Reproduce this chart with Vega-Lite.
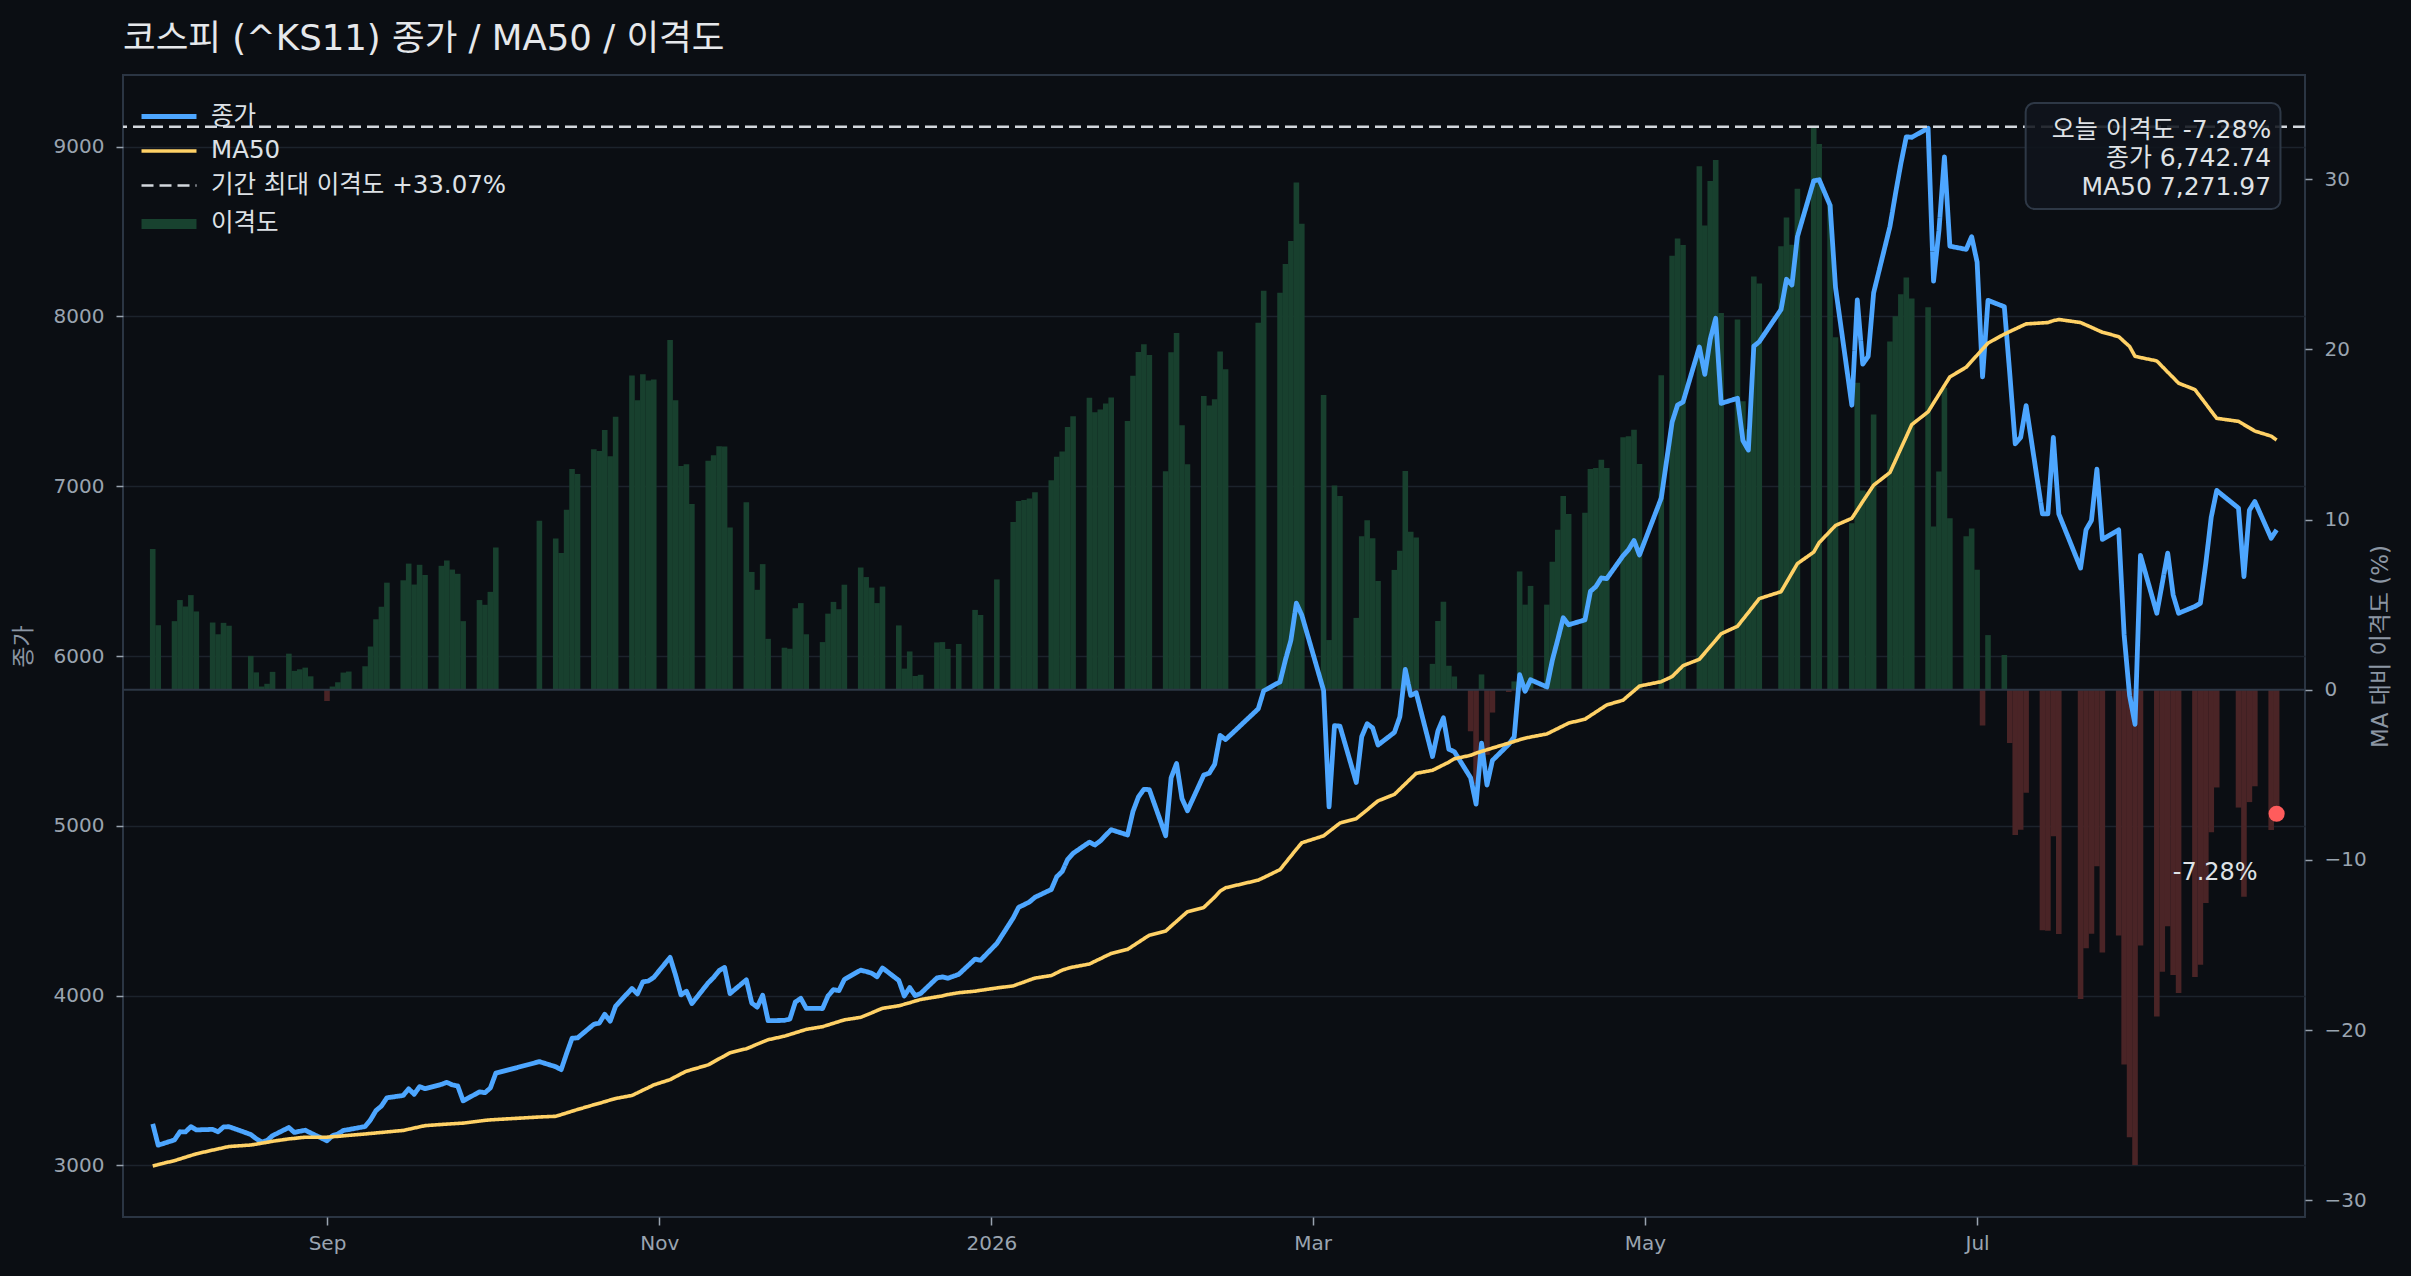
{
  "$schema": "https://vega.github.io/schema/vega-lite/v6.json",
  "width": 2182,
  "height": 1142,
  "autosize": {"type": "none"},
  "padding": {"left": 123, "top": 75, "right": 106, "bottom": 59},
  "background": "#0b0e13",
  "config": {
    "font": "DejaVu Sans, Noto Sans CJK KR",
    "view": {"stroke": "#2b3543", "strokeWidth": 2},
    "axis": {
      "labelColor": "#9aa4b0", "labelFontSize": 20, "labelFont": "DejaVu Sans, Noto Sans CJK KR",
      "titleColor": "#8c96a3", "titleFontSize": 23, "titleFontWeight": "normal",
      "tickColor": "#9aa4b0", "tickSize": 7, "tickWidth": 1.5, "domain": false, "grid": false
    },
    "legend": {
      "title": null, "orient": "none", "legendX": 27, "legendY": 25, "padding": 0,
      "symbolType": "M-2,0H2", "symbolSize": 756, "labelFontSize": 24.5, "labelColor": "#dde1e6",
      "labelLimit": 1000, "rowPadding": 7, "labelOffset": 23
    }
  },
  "title": {
    "text": "코스피 (^KS11) 종가 / MA50 / 이격도",
    "anchor": "start", "frame": "group", "fontSize": 35.5, "fontWeight": "normal",
    "color": "#e6e8eb", "baseline": "bottom", "offset": 18, "dy": 35
  },
  "datasets": {
    "kospi": [
      {"date":"2025-07-31","close":3245,"ma":2997,"dev":8.27},
      {"date":"2025-08-01","close":3119,"ma":3005,"dev":3.79},
      {"date":"2025-08-04","close":3150,"ma":3028,"dev":4.03},
      {"date":"2025-08-05","close":3198,"ma":3038,"dev":5.27},
      {"date":"2025-08-06","close":3197,"ma":3048,"dev":4.89},
      {"date":"2025-08-07","close":3228,"ma":3058,"dev":5.56},
      {"date":"2025-08-08","close":3209,"ma":3068,"dev":4.60},
      {"date":"2025-08-11","close":3212,"ma":3090,"dev":3.95},
      {"date":"2025-08-12","close":3198,"ma":3097,"dev":3.26},
      {"date":"2025-08-13","close":3226,"ma":3104,"dev":3.93},
      {"date":"2025-08-14","close":3228,"ma":3111,"dev":3.76},
      {"date":"2025-08-18","close":3182,"ma":3120,"dev":1.99},
      {"date":"2025-08-19","close":3157,"ma":3125,"dev":1.02},
      {"date":"2025-08-20","close":3137,"ma":3131,"dev":0.19},
      {"date":"2025-08-21","close":3147,"ma":3136,"dev":0.35},
      {"date":"2025-08-22","close":3175,"ma":3142,"dev":1.05},
      {"date":"2025-08-25","close":3223,"ma":3156,"dev":2.12},
      {"date":"2025-08-26","close":3194,"ma":3159,"dev":1.11},
      {"date":"2025-08-27","close":3201,"ma":3163,"dev":1.20},
      {"date":"2025-08-28","close":3207,"ma":3166,"dev":1.30},
      {"date":"2025-08-29","close":3191,"ma":3166,"dev":0.79},
      {"date":"2025-09-01","close":3145,"ma":3166,"dev":-0.66},
      {"date":"2025-09-02","close":3175,"ma":3169,"dev":0.19},
      {"date":"2025-09-03","close":3185,"ma":3171,"dev":0.44},
      {"date":"2025-09-04","close":3206,"ma":3174,"dev":1.01},
      {"date":"2025-09-05","close":3211,"ma":3177,"dev":1.07},
      {"date":"2025-09-08","close":3229,"ma":3185,"dev":1.38},
      {"date":"2025-09-09","close":3269,"ma":3188,"dev":2.54},
      {"date":"2025-09-10","close":3323,"ma":3191,"dev":4.14},
      {"date":"2025-09-11","close":3350,"ma":3194,"dev":4.88},
      {"date":"2025-09-12","close":3398,"ma":3197,"dev":6.29},
      {"date":"2025-09-15","close":3412,"ma":3206,"dev":6.43},
      {"date":"2025-09-16","close":3451,"ma":3213,"dev":7.41},
      {"date":"2025-09-17","close":3419,"ma":3220,"dev":6.18},
      {"date":"2025-09-18","close":3464,"ma":3227,"dev":7.34},
      {"date":"2025-09-19","close":3452,"ma":3234,"dev":6.74},
      {"date":"2025-09-22","close":3477,"ma":3241,"dev":7.28},
      {"date":"2025-09-23","close":3489,"ma":3243,"dev":7.59},
      {"date":"2025-09-24","close":3474,"ma":3245,"dev":7.06},
      {"date":"2025-09-25","close":3468,"ma":3247,"dev":6.81},
      {"date":"2025-09-26","close":3380,"ma":3249,"dev":4.03},
      {"date":"2025-09-29","close":3433,"ma":3261,"dev":5.27},
      {"date":"2025-09-30","close":3428,"ma":3265,"dev":4.99},
      {"date":"2025-10-01","close":3456,"ma":3268,"dev":5.75},
      {"date":"2025-10-02","close":3543,"ma":3270,"dev":8.35},
      {"date":"2025-10-10","close":3611,"ma":3285,"dev":9.92},
      {"date":"2025-10-13","close":3581,"ma":3289,"dev":8.88},
      {"date":"2025-10-14","close":3564,"ma":3299,"dev":8.03},
      {"date":"2025-10-15","close":3659,"ma":3309,"dev":10.58},
      {"date":"2025-10-16","close":3749,"ma":3319,"dev":12.96},
      {"date":"2025-10-17","close":3751,"ma":3329,"dev":12.68},
      {"date":"2025-10-20","close":3831,"ma":3357,"dev":14.12},
      {"date":"2025-10-21","close":3838,"ma":3366,"dev":14.02},
      {"date":"2025-10-22","close":3890,"ma":3375,"dev":15.26},
      {"date":"2025-10-23","close":3849,"ma":3385,"dev":13.71},
      {"date":"2025-10-24","close":3938,"ma":3394,"dev":16.03},
      {"date":"2025-10-27","close":4042,"ma":3412,"dev":18.46},
      {"date":"2025-10-28","close":4010,"ma":3427,"dev":17.01},
      {"date":"2025-10-29","close":4081,"ma":3443,"dev":18.53},
      {"date":"2025-10-30","close":4086,"ma":3458,"dev":18.16},
      {"date":"2025-10-31","close":4107,"ma":3474,"dev":18.22},
      {"date":"2025-11-03","close":4225,"ma":3505,"dev":20.54},
      {"date":"2025-11-04","close":4121,"ma":3522,"dev":17.01},
      {"date":"2025-11-05","close":4004,"ma":3539,"dev":13.14},
      {"date":"2025-11-06","close":4026,"ma":3555,"dev":13.25},
      {"date":"2025-11-07","close":3953,"ma":3564,"dev":10.91},
      {"date":"2025-11-10","close":4075,"ma":3592,"dev":13.45},
      {"date":"2025-11-11","close":4107,"ma":3610,"dev":13.77},
      {"date":"2025-11-12","close":4147,"ma":3628,"dev":14.31},
      {"date":"2025-11-13","close":4166,"ma":3645,"dev":14.29},
      {"date":"2025-11-14","close":4012,"ma":3663,"dev":9.53},
      {"date":"2025-11-17","close":4093,"ma":3687,"dev":11.01},
      {"date":"2025-11-18","close":3956,"ma":3700,"dev":6.92},
      {"date":"2025-11-19","close":3932,"ma":3714,"dev":5.87},
      {"date":"2025-11-20","close":4002,"ma":3727,"dev":7.38},
      {"date":"2025-11-21","close":3852,"ma":3740,"dev":2.99},
      {"date":"2025-11-24","close":3854,"ma":3761,"dev":2.47},
      {"date":"2025-11-25","close":3862,"ma":3771,"dev":2.41},
      {"date":"2025-11-26","close":3962,"ma":3781,"dev":4.79},
      {"date":"2025-11-27","close":3984,"ma":3791,"dev":5.09},
      {"date":"2025-11-28","close":3925,"ma":3801,"dev":3.26},
      {"date":"2025-12-01","close":3924,"ma":3817,"dev":2.80},
      {"date":"2025-12-02","close":3998,"ma":3827,"dev":4.47},
      {"date":"2025-12-03","close":4035,"ma":3837,"dev":5.16},
      {"date":"2025-12-04","close":4029,"ma":3847,"dev":4.73},
      {"date":"2025-12-05","close":4095,"ma":3857,"dev":6.17},
      {"date":"2025-12-08","close":4150,"ma":3872,"dev":7.18},
      {"date":"2025-12-09","close":4142,"ma":3885,"dev":6.62},
      {"date":"2025-12-10","close":4132,"ma":3898,"dev":6.00},
      {"date":"2025-12-11","close":4111,"ma":3912,"dev":5.09},
      {"date":"2025-12-12","close":4163,"ma":3925,"dev":6.06},
      {"date":"2025-12-15","close":4089,"ma":3940,"dev":3.78},
      {"date":"2025-12-16","close":3998,"ma":3949,"dev":1.24},
      {"date":"2025-12-17","close":4047,"ma":3958,"dev":2.25},
      {"date":"2025-12-18","close":4000,"ma":3968,"dev":0.81},
      {"date":"2025-12-19","close":4012,"ma":3977,"dev":0.88},
      {"date":"2025-12-22","close":4104,"ma":3993,"dev":2.78},
      {"date":"2025-12-23","close":4110,"ma":3998,"dev":2.80},
      {"date":"2025-12-24","close":4102,"ma":4006,"dev":2.40},
      {"date":"2025-12-26","close":4125,"ma":4017,"dev":2.69},
      {"date":"2025-12-29","close":4215,"ma":4026,"dev":4.69},
      {"date":"2025-12-30","close":4208,"ma":4031,"dev":4.39},
      {"date":"2026-01-02","close":4307,"ma":4045,"dev":6.48},
      {"date":"2026-01-05","close":4457,"ma":4057,"dev":9.86},
      {"date":"2026-01-06","close":4520,"ma":4069,"dev":11.08},
      {"date":"2026-01-07","close":4535,"ma":4080,"dev":11.15},
      {"date":"2026-01-08","close":4552,"ma":4092,"dev":11.24},
      {"date":"2026-01-09","close":4579,"ma":4103,"dev":11.60},
      {"date":"2026-01-12","close":4625,"ma":4118,"dev":12.31},
      {"date":"2026-01-13","close":4700,"ma":4134,"dev":13.69},
      {"date":"2026-01-14","close":4731,"ma":4150,"dev":14.00},
      {"date":"2026-01-15","close":4802,"ma":4160,"dev":15.43},
      {"date":"2026-01-16","close":4838,"ma":4168,"dev":16.07},
      {"date":"2026-01-19","close":4904,"ma":4186,"dev":17.15},
      {"date":"2026-01-20","close":4887,"ma":4202,"dev":16.30},
      {"date":"2026-01-21","close":4911,"ma":4217,"dev":16.46},
      {"date":"2026-01-22","close":4945,"ma":4233,"dev":16.82},
      {"date":"2026-01-23","close":4977,"ma":4248,"dev":17.16},
      {"date":"2026-01-26","close":4946,"ma":4272,"dev":15.78},
      {"date":"2026-01-27","close":5085,"ma":4293,"dev":18.45},
      {"date":"2026-01-28","close":5170,"ma":4314,"dev":19.84},
      {"date":"2026-01-29","close":5215,"ma":4335,"dev":20.30},
      {"date":"2026-01-30","close":5213,"ma":4356,"dev":19.67},
      {"date":"2026-02-02","close":4942,"ma":4380,"dev":12.83},
      {"date":"2026-02-03","close":5283,"ma":4409,"dev":19.82},
      {"date":"2026-02-04","close":5367,"ma":4437,"dev":20.96},
      {"date":"2026-02-05","close":5160,"ma":4466,"dev":15.54},
      {"date":"2026-02-06","close":5089,"ma":4494,"dev":13.24},
      {"date":"2026-02-09","close":5299,"ma":4519,"dev":17.26},
      {"date":"2026-02-10","close":5310,"ma":4550,"dev":16.70},
      {"date":"2026-02-11","close":5362,"ma":4580,"dev":17.07},
      {"date":"2026-02-12","close":5532,"ma":4615,"dev":19.87},
      {"date":"2026-02-13","close":5508,"ma":4635,"dev":18.83},
      {"date":"2026-02-19","close":5689,"ma":4680,"dev":21.56},
      {"date":"2026-02-20","close":5795,"ma":4695,"dev":23.43},
      {"date":"2026-02-23","close":5848,"ma":4742,"dev":23.32},
      {"date":"2026-02-24","close":5978,"ma":4782,"dev":25.01},
      {"date":"2026-02-25","close":6093,"ma":4822,"dev":26.36},
      {"date":"2026-02-26","close":6311,"ma":4862,"dev":29.80},
      {"date":"2026-02-27","close":6241,"ma":4900,"dev":27.37},
      {"date":"2026-03-03","close":5797,"ma":4941,"dev":17.32},
      {"date":"2026-03-04","close":5111,"ma":4966,"dev":2.92},
      {"date":"2026-03-05","close":5590,"ma":4991,"dev":12.00},
      {"date":"2026-03-06","close":5587,"ma":5016,"dev":11.38},
      {"date":"2026-03-09","close":5255,"ma":5042,"dev":4.22},
      {"date":"2026-03-10","close":5525,"ma":5068,"dev":9.02},
      {"date":"2026-03-11","close":5601,"ma":5094,"dev":9.95},
      {"date":"2026-03-12","close":5577,"ma":5121,"dev":8.90},
      {"date":"2026-03-13","close":5476,"ma":5147,"dev":6.39},
      {"date":"2026-03-16","close":5550,"ma":5185,"dev":7.04},
      {"date":"2026-03-17","close":5642,"ma":5216,"dev":8.17},
      {"date":"2026-03-18","close":5921,"ma":5247,"dev":12.85},
      {"date":"2026-03-19","close":5768,"ma":5278,"dev":9.28},
      {"date":"2026-03-20","close":5784,"ma":5309,"dev":8.95},
      {"date":"2026-03-23","close":5408,"ma":5327,"dev":1.52},
      {"date":"2026-03-24","close":5559,"ma":5343,"dev":4.04},
      {"date":"2026-03-25","close":5636,"ma":5359,"dev":5.17},
      {"date":"2026-03-26","close":5451,"ma":5375,"dev":1.41},
      {"date":"2026-03-27","close":5437,"ma":5395,"dev":0.78},
      {"date":"2026-03-30","close":5283,"ma":5415,"dev":-2.44},
      {"date":"2026-03-31","close":5128,"ma":5428,"dev":-5.53},
      {"date":"2026-04-01","close":5487,"ma":5438,"dev":0.90},
      {"date":"2026-04-02","close":5240,"ma":5448,"dev":-3.82},
      {"date":"2026-04-03","close":5385,"ma":5458,"dev":-1.34},
      {"date":"2026-04-06","close":5480,"ma":5487,"dev":-0.13},
      {"date":"2026-04-07","close":5524,"ma":5497,"dev":0.49},
      {"date":"2026-04-08","close":5890,"ma":5507,"dev":6.95},
      {"date":"2026-04-09","close":5792,"ma":5516,"dev":5.00},
      {"date":"2026-04-10","close":5860,"ma":5523,"dev":6.10},
      {"date":"2026-04-13","close":5818,"ma":5541,"dev":5.00},
      {"date":"2026-04-14","close":5975,"ma":5557,"dev":7.52},
      {"date":"2026-04-15","close":6097,"ma":5573,"dev":9.40},
      {"date":"2026-04-16","close":6225,"ma":5589,"dev":11.38},
      {"date":"2026-04-17","close":6184,"ma":5605,"dev":10.33},
      {"date":"2026-04-20","close":6213,"ma":5628,"dev":10.39},
      {"date":"2026-04-21","close":6381,"ma":5649,"dev":12.96},
      {"date":"2026-04-22","close":6409,"ma":5670,"dev":13.03},
      {"date":"2026-04-23","close":6460,"ma":5691,"dev":13.51},
      {"date":"2026-04-24","close":6456,"ma":5712,"dev":13.03},
      {"date":"2026-04-27","close":6591,"ma":5740,"dev":14.83},
      {"date":"2026-04-28","close":6627,"ma":5768,"dev":14.89},
      {"date":"2026-04-29","close":6680,"ma":5795,"dev":15.27},
      {"date":"2026-04-30","close":6595,"ma":5823,"dev":13.26},
      {"date":"2026-05-04","close":6930,"ma":5849,"dev":18.48},
      {"date":"2026-05-06","close":7378,"ma":5879,"dev":25.50},
      {"date":"2026-05-07","close":7478,"ma":5911,"dev":26.51},
      {"date":"2026-05-08","close":7496,"ma":5943,"dev":26.13},
      {"date":"2026-05-11","close":7820,"ma":5981,"dev":30.75},
      {"date":"2026-05-12","close":7659,"ma":6018,"dev":27.27},
      {"date":"2026-05-13","close":7866,"ma":6056,"dev":29.89},
      {"date":"2026-05-14","close":7989,"ma":6093,"dev":31.12},
      {"date":"2026-05-15","close":7488,"ma":6131,"dev":22.13},
      {"date":"2026-05-18","close":7518,"ma":6175,"dev":21.75},
      {"date":"2026-05-19","close":7269,"ma":6216,"dev":16.94},
      {"date":"2026-05-20","close":7213,"ma":6256,"dev":15.30},
      {"date":"2026-05-21","close":7825,"ma":6297,"dev":24.27},
      {"date":"2026-05-22","close":7851,"ma":6338,"dev":23.87},
      {"date":"2026-05-26","close":8041,"ma":6379,"dev":26.05},
      {"date":"2026-05-27","close":8219,"ma":6434,"dev":27.74},
      {"date":"2026-05-28","close":8185,"ma":6489,"dev":26.14},
      {"date":"2026-05-29","close":8470,"ma":6544,"dev":29.43},
      {"date":"2026-06-01","close":8799,"ma":6612,"dev":33.07},
      {"date":"2026-06-02","close":8805,"ma":6668,"dev":32.05},
      {"date":"2026-06-04","close":8655,"ma":6735,"dev":28.51},
      {"date":"2026-06-05","close":8171,"ma":6769,"dev":20.71},
      {"date":"2026-06-08","close":7477,"ma":6811,"dev":9.78},
      {"date":"2026-06-09","close":8097,"ma":6860,"dev":18.03},
      {"date":"2026-06-10","close":7719,"ma":6910,"dev":11.71},
      {"date":"2026-06-11","close":7765,"ma":6958,"dev":11.60},
      {"date":"2026-06-12","close":8139,"ma":7006,"dev":16.17},
      {"date":"2026-06-15","close":8530,"ma":7081,"dev":20.46},
      {"date":"2026-06-16","close":8720,"ma":7151,"dev":21.94},
      {"date":"2026-06-17","close":8900,"ma":7222,"dev":23.23},
      {"date":"2026-06-18","close":9058,"ma":7292,"dev":24.22},
      {"date":"2026-06-19","close":9055,"ma":7363,"dev":22.98},
      {"date":"2026-06-22","close":9109,"ma":7438,"dev":22.47},
      {"date":"2026-06-23","close":8208,"ma":7490,"dev":9.59},
      {"date":"2026-06-24","close":8508,"ma":7541,"dev":12.82},
      {"date":"2026-06-25","close":8940,"ma":7593,"dev":17.74},
      {"date":"2026-06-26","close":8414,"ma":7644,"dev":10.07},
      {"date":"2026-06-29","close":8395,"ma":7701,"dev":9.01},
      {"date":"2026-06-30","close":8470,"ma":7737,"dev":9.47},
      {"date":"2026-07-01","close":8320,"ma":7772,"dev":7.05},
      {"date":"2026-07-02","close":7644,"ma":7808,"dev":-2.10},
      {"date":"2026-07-03","close":8095,"ma":7843,"dev":3.21},
      {"date":"2026-07-06","close":8057,"ma":7896,"dev":2.04},
      {"date":"2026-07-07","close":7663,"ma":7911,"dev":-3.13},
      {"date":"2026-07-08","close":7250,"ma":7926,"dev":-8.53},
      {"date":"2026-07-09","close":7288,"ma":7941,"dev":-8.22},
      {"date":"2026-07-10","close":7475,"ma":7956,"dev":-6.05},
      {"date":"2026-07-13","close":6837,"ma":7962,"dev":-14.13},
      {"date":"2026-07-14","close":6837,"ma":7964,"dev":-14.15},
      {"date":"2026-07-15","close":7288,"ma":7975,"dev":-8.61},
      {"date":"2026-07-16","close":6837,"ma":7982,"dev":-14.34},
      {"date":"2026-07-20","close":6518,"ma":7964,"dev":-18.16},
      {"date":"2026-07-21","close":6743,"ma":7950,"dev":-15.18},
      {"date":"2026-07-22","close":6799,"ma":7936,"dev":-14.33},
      {"date":"2026-07-23","close":7100,"ma":7921,"dev":-10.36},
      {"date":"2026-07-24","close":6687,"ma":7907,"dev":-15.43},
      {"date":"2026-07-27","close":6743,"ma":7881,"dev":-14.44},
      {"date":"2026-07-28","close":6124,"ma":7852,"dev":-22.01},
      {"date":"2026-07-29","close":5767,"ma":7823,"dev":-26.28},
      {"date":"2026-07-30","close":5598,"ma":7765,"dev":-27.91},
      {"date":"2026-07-31","close":6593,"ma":7758,"dev":-15.02},
      {"date":"2026-08-03","close":6252,"ma":7738,"dev":-19.20},
      {"date":"2026-08-04","close":6429,"ma":7705,"dev":-16.56},
      {"date":"2026-08-05","close":6606,"ma":7672,"dev":-13.89},
      {"date":"2026-08-06","close":6360,"ma":7640,"dev":-16.75},
      {"date":"2026-08-07","close":6252,"ma":7607,"dev":-17.81},
      {"date":"2026-08-10","close":6292,"ma":7569,"dev":-16.87},
      {"date":"2026-08-11","close":6311,"ma":7527,"dev":-16.16},
      {"date":"2026-08-12","close":6547,"ma":7485,"dev":-12.53},
      {"date":"2026-08-13","close":6819,"ma":7442,"dev":-8.37},
      {"date":"2026-08-14","close":6975,"ma":7400,"dev":-5.74},
      {"date":"2026-08-18","close":6871,"ma":7382,"dev":-6.92},
      {"date":"2026-08-19","close":6468,"ma":7363,"dev":-12.16},
      {"date":"2026-08-20","close":6859,"ma":7344,"dev":-6.60},
      {"date":"2026-08-21","close":6910,"ma":7325,"dev":-5.67},
      {"date":"2026-08-24","close":6694,"ma":7295,"dev":-8.24},
      {"date":"2026-08-25","close":6742.74,"ma":7271.97,"dev":-7.28}
    ],
    "one": [{}]
  },
  "data": {"name": "kospi"},
  "layer": [
    {
      "mark": {"type": "bar", "size": 5.6},
      "encoding": {
        "x": {
          "field": "date", "type": "temporal", "title": null,
          "scale": {"type": "utc", "domain": [{"year": 2025, "month": 7, "date": 26, "hours": 11, "utc": true}, {"year": 2026, "month": 8, "date": 29, "hours": 7, "utc": true}]},
          "axis": {
            "orient": "bottom", "tickSize": 8, "labelPadding": 8,
            "values": [
              {"year": 2025, "month": 9, "date": 1, "utc": true},
              {"year": 2025, "month": 11, "date": 1, "utc": true},
              {"year": 2026, "month": 1, "date": 1, "utc": true},
              {"year": 2026, "month": 3, "date": 1, "utc": true},
              {"year": 2026, "month": 5, "date": 1, "utc": true},
              {"year": 2026, "month": 7, "date": 1, "utc": true}
            ],
            "labelExpr": "utcmonth(datum.value) == 0 ? utcFormat(datum.value, '%Y') : utcFormat(datum.value, '%b')"
          }
        },
        "y": {
          "field": "dev", "type": "quantitative",
          "scale": {"domain": [-30.97, 36.11], "nice": false, "zero": false},
          "axis": {"orient": "right", "title": "MA 대비 이격도 (%)", "values": [-30, -20, -10, 0, 10, 20, 30], "labelPadding": 12, "titleAngle": 270, "titlePadding": 26}
        },
        "color": {"condition": {"test": "datum.dev < 0", "value": "#4a2426"}, "value": "#18402e"}
      }
    },
    {
      "data": {"name": "one"},
      "mark": {"type": "rule", "color": "#2d3745", "strokeWidth": 2},
      "encoding": {"y": {"datum": 0, "type": "quantitative", "scale": {"domain": [-30.97, 36.11], "nice": false, "zero": false}, "axis": null}}
    },
    {
      "transform": [{"fold": ["close", "ma"], "as": ["series", "price"]}],
      "mark": {"type": "line", "strokeJoin": "round"},
      "encoding": {
        "x": {"field": "date", "type": "temporal", "title": null, "scale": {"type": "utc"}},
        "y": {
          "field": "price", "type": "quantitative",
          "scale": {"domain": [2696, 9422], "nice": false, "zero": false},
          "axis": {"orient": "left", "title": "종가", "format": "d", "values": [3000, 4000, 5000, 6000, 7000, 8000, 9000], "grid": true, "gridColor": "#1c232c", "gridWidth": 1.5, "labelPadding": 12, "titlePadding": 18}
        },
        "color": {
          "field": "series", "type": "ordinal",
          "scale": {"type": "ordinal", "domain": ["close", "ma", "maxdev", "dev"], "range": ["#4da6ff", "#ffd166", "#d3d7dd", "#18422f"]},
          "legend": {"labelExpr": "datum.label == 'close' ? '종가' : datum.label == 'ma' ? 'MA50' : datum.label == 'maxdev' ? '기간 최대 이격도 +33.07%' : '이격도'"}
        },
        "strokeDash": {
          "field": "series", "type": "ordinal",
          "scale": {"type": "ordinal", "domain": ["close", "ma", "maxdev", "dev"], "range": [[1, 0], [1, 0], [12, 6], [1, 0]]},
          "legend": {"labelExpr": "datum.label == 'close' ? '종가' : datum.label == 'ma' ? 'MA50' : datum.label == 'maxdev' ? '기간 최대 이격도 +33.07%' : '이격도'"}
        },
        "strokeWidth": {
          "field": "series", "type": "ordinal",
          "scale": {"type": "ordinal", "domain": ["close", "ma", "maxdev", "dev"], "range": [4.8, 3.6, 2.6, 10]},
          "legend": {"labelExpr": "datum.label == 'close' ? '종가' : datum.label == 'ma' ? 'MA50' : datum.label == 'maxdev' ? '기간 최대 이격도 +33.07%' : '이격도'"}
        }
      }
    },
    {
      "data": {"name": "one"},
      "mark": {"type": "rule", "color": "#d3d7dd", "strokeWidth": 2.6, "strokeDash": [12, 6]},
      "encoding": {"y": {"datum": 33.07, "type": "quantitative", "scale": {"domain": [-30.97, 36.11], "nice": false, "zero": false}, "axis": null}}
    },
    {
      "data": {"name": "one"},
      "mark": {"type": "rect", "cornerRadius": 9, "fill": "#10151d", "fillOpacity": 0.88, "stroke": "#2e3846", "strokeWidth": 2},
      "encoding": {
        "x": {"datum": {"year": 2026, "month": 7, "date": 9, "hours": 22, "utc": true}, "type": "temporal"},
        "x2": {"datum": {"year": 2026, "month": 8, "date": 25, "hours": 17, "utc": true}},
        "y": {"datum": 34.47, "type": "quantitative", "scale": {"domain": [-30.97, 36.11], "nice": false, "zero": false}, "axis": null},
        "y2": {"datum": 28.24}
      }
    },
    {
      "data": {"name": "one"},
      "mark": {"type": "text", "align": "right", "baseline": "alphabetic", "fontSize": 25, "fontWeight": "normal", "lineHeight": 28.5, "fill": "#dfe2e6",
        "text": ["오늘 이격도 -7.28%", "종가 6,742.74", "MA50 7,271.97"]},
      "encoding": {
        "x": {"datum": {"year": 2026, "month": 8, "date": 24, "utc": true}, "type": "temporal"},
        "y": {"datum": 32.41, "type": "quantitative", "scale": {"domain": [-30.97, 36.11], "nice": false, "zero": false}, "axis": null}
      }
    },
    {
      "transform": [{"filter": {"field": "date", "equal": {"year": 2026, "month": 8, "date": 25, "utc": true}}}],
      "mark": {"type": "point", "filled": true, "size": 260, "color": "#ff5c5c", "opacity": 1},
      "encoding": {
        "x": {"field": "date", "type": "temporal", "scale": {"type": "utc"}},
        "y": {"field": "dev", "type": "quantitative", "scale": {"domain": [-30.97, 36.11], "nice": false, "zero": false}, "axis": null}
      }
    },
    {
      "transform": [{"filter": {"field": "date", "equal": {"year": 2026, "month": 8, "date": 25, "utc": true}}}],
      "mark": {"type": "text", "align": "right", "baseline": "alphabetic", "dx": -19, "dy": 66, "fontSize": 24, "fontWeight": "normal", "fill": "#dfe2e6", "text": "-7.28%"},
      "encoding": {
        "x": {"field": "date", "type": "temporal", "scale": {"type": "utc"}},
        "y": {"field": "dev", "type": "quantitative", "scale": {"domain": [-30.97, 36.11], "nice": false, "zero": false}, "axis": null}
      }
    }
  ],
  "resolve": {"scale": {"y": "independent"}}
}
